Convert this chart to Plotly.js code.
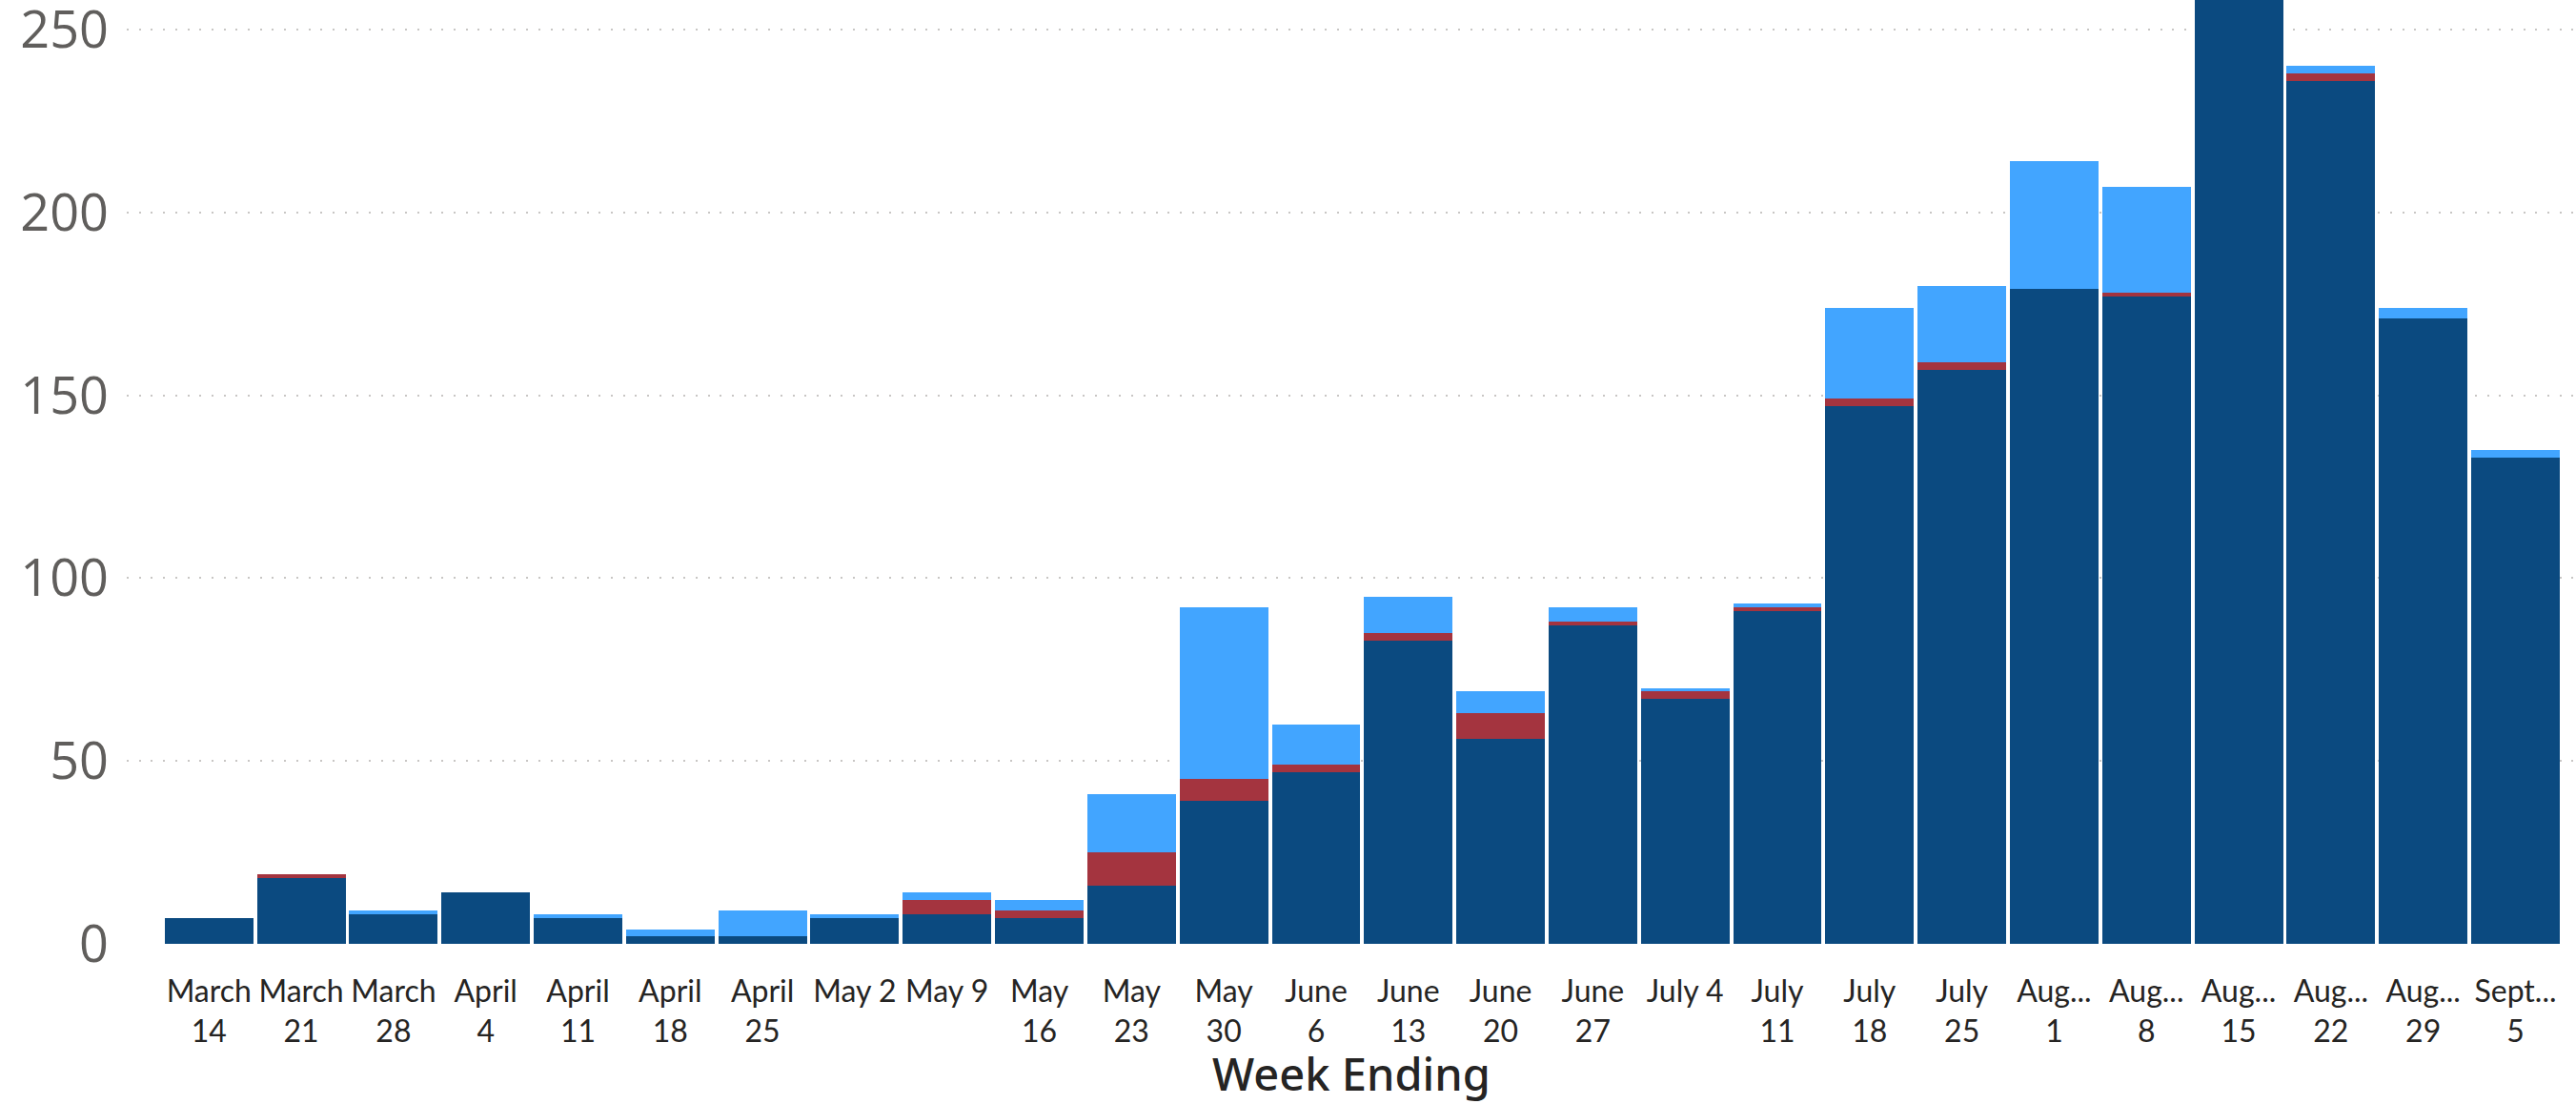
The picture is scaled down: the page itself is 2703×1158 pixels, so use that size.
<!DOCTYPE html>
<html>
<head>
<meta charset="utf-8">
<script src="https://cdn.plot.ly/plotly-3.0.1.min.js"></script>
<style>
  html, body { margin: 0; padding: 0; background: #ffffff; }
  #chart { width: 2703px; height: 1158px; }
</style>
</head>
<body>
<div id="chart"></div>
<script>
// Week ending categories
var weeks = ["March 14", "March 21", "March 28", "April 4", "April 11", "April 18", "April 25",
  "May 2", "May 9", "May 16", "May 23", "May 30", "June 6", "June 13", "June 20", "June 27",
  "July 4", "July 11", "July 18", "July 25", "August 1", "August 8", "August 15", "August 22",
  "August 29", "September 5"];

// Tick labels as shown (wrapped / truncated)
var tickLabels = ["March<br>14", "March<br>21", "March<br>28", "April<br>4", "April<br>11", "April<br>18",
  "April<br>25", "May 2<br> ", "May 9<br> ", "May<br>16", "May<br>23", "May<br>30", "June<br>6", "June<br>13",
  "June<br>20", "June<br>27", "July 4<br> ", "July<br>11", "July<br>18", "July<br>25", "Aug...<br>1",
  "Aug...<br>8", "Aug...<br>15", "Aug...<br>22", "Aug...<br>29", "Sept...<br>5"];

// Series values (stacked, bottom to top)
var darkSeries  = [7, 18, 8, 14, 7, 2, 2, 7, 8, 7, 16, 39, 47, 83, 56, 87, 67, 91, 147, 157, 179, 177, 262, 236, 171, 133];
var redSeries   = [0, 1, 0, 0, 0, 0, 0, 0, 4, 2, 9, 6, 2, 2, 7, 1, 2, 1, 2, 2, 0, 1, 0, 2, 0, 0];
var lightSeries = [0, 0, 1, 0, 1, 2, 7, 1, 2, 3, 16, 47, 11, 10, 6, 4, 1, 1, 25, 21, 35, 29, 0, 2, 3, 2];

var yTicks = [0, 50, 100, 150, 200, 250];

var traces = [
  { type: "bar", name: "Series 1", x: weeks, y: darkSeries,  marker: { color: "#0B4A80" } },
  { type: "bar", name: "Series 2", x: weeks, y: redSeries,   marker: { color: "#A4343F" } },
  { type: "bar", name: "Series 3", x: weeks, y: lightSeries, marker: { color: "#42A5FF" } }
];

var layout = {
  width: 2703,
  height: 1158,
  margin: { l: 133, r: 0, t: 0, b: 168, pad: 0 },
  paper_bgcolor: "#ffffff",
  plot_bgcolor: "#ffffff",
  barmode: "stack",
  bargap: 0.04,
  showlegend: false,
  xaxis: {
    type: "category",
    range: [-0.891, 25.656],
    tickmode: "array",
    tickvals: weeks,
    ticktext: tickLabels,
    ticks: "",
    showgrid: false,
    zeroline: false,
    showline: false,
    ticklabelstandoff: 28,
    tickfont: { family: "Lato, 'Noto Sans', sans-serif", size: 32, color: "#252423" },
    automargin: false,
    title: {
      text: "Week Ending",
      standoff: 6,
      font: { family: "'Noto Sans', sans-serif", size: 47, color: "#252423", weight: 500 }
    }
  },
  yaxis: {
    range: [0, 258.1],
    tickmode: "array",
    tickvals: yTicks,
    ticks: "",
    showgrid: true,
    gridcolor: "#C8C6C4",
    gridwidth: 2,
    griddash: "2px,10.7px",
    zeroline: false,
    showline: false,
    automargin: false,
    ticklabelstandoff: 18,
    ticklabeloverflow: "allow",
    tickfont: { family: "'Open Sans', 'Noto Sans', sans-serif", size: 54, color: "#605E5C" }
  }
};

Plotly.newPlot("chart", traces, layout, { staticPlot: true, displayModeBar: false });
</script>
</body>
</html>
